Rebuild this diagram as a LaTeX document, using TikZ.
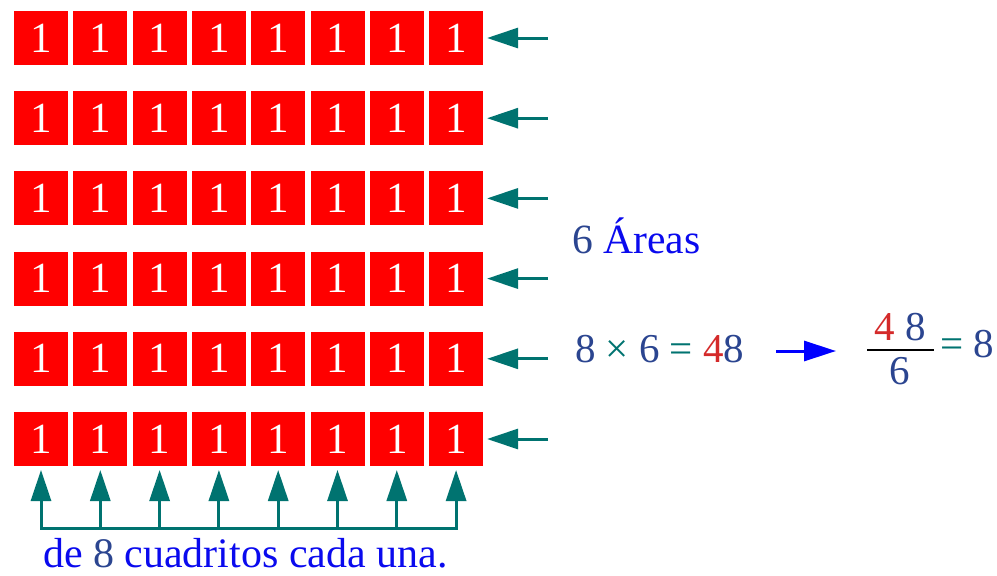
\documentclass[tikz,border=0pt]{standalone}
\usepackage{fontspec}
\setmainfont{Liberation Serif}
\usetikzlibrary{arrows.meta}
\definecolor{boxred}{HTML}{FF0000}
\definecolor{tealc}{HTML}{007370}
\definecolor{navy}{HTML}{2B4590}
\definecolor{brightblue}{HTML}{0A0AEE}
\definecolor{numred}{HTML}{D42A2A}
\tikzset{
  unitbox/.style={rectangle, fill=boxred, minimum width=54pt, minimum height=54pt,
    inner sep=0pt, outer sep=0pt, text=white, font=\fontsize{43}{43}\selectfont},
  pointer/.style={draw=tealc, line width=3pt,
    -{Triangle[length=31pt,width=20pt]}, shorten >=4pt},
  bracketline/.style={draw=tealc, line width=3pt},
  bluearrow/.style={draw=blue, line width=3pt, -{Triangle[length=32pt,width=20pt]}},
  label/.style={inner sep=0pt, outer sep=0pt, font=\fontsize{41}{41}\selectfont}
}
\begin{document}
\begin{tikzpicture}[x=1pt, y=-1pt]
  \useasboundingbox (0,0) rectangle (997,576);
  % grid of unit squares: 6 rows of 8
  \foreach \r in {1,...,6} {
    \foreach \c in {1,...,8} {
      \node[unitbox] (b-\r-\c) at ({41+59.3*(\c-1)}, {38+80.2*(\r-1)}) {1};
    }
    % arrow pointing at each row
    \coordinate (rs-\r) at (548, {38+80.2*(\r-1)});
    \draw[pointer] (rs-\r) -- (b-\r-8.east);
  }
  % bracket under the last row with one arrow per column
  \foreach \c in {1,...,8} {
    \coordinate (bs-\c) at ({41+59.3*(\c-1)}, 528);
    \draw[pointer] (bs-\c) -- (b-6-\c.south);
  }
  \draw[bracketline, line cap=rect] (bs-1) -- (bs-8);
  % texts
  \node[label, anchor=base west, font=\fontsize{41.6}{42}\selectfont] (areas) at (572,253)
    {\textcolor{navy}{6} \textcolor{brightblue}{Áreas}};
  \node[label, anchor=base west] (prod) at (575,362)
    {\textcolor{navy}{8} \textcolor{tealc}{×} \textcolor{navy}{6} \textcolor{tealc}{=} \textcolor{numred}{4}\textcolor{navy}{8}};
  \coordinate (ba-s) at (776,351);
  \coordinate (ba-e) at (836,351);
  \draw[bluearrow] (ba-s) -- (ba-e);
  % fraction 48/6 = 8
  \node[label, anchor=base] (num) at (900,340)
    {\textcolor{numred}{4}\hspace{10pt}\textcolor{navy}{8}};
  \coordinate (bar-l) at (867,350);
  \coordinate (bar-r) at (934,350);
  \draw[black, line width=2pt] (bar-l) -- (bar-r);
  \node[label, anchor=base] (den) at (900,384) {\textcolor{navy}{6}};
  \node[label, anchor=base west] (res) at (940,357)
    {\textcolor{tealc}{=}\hspace{10pt}\textcolor{navy}{8}};
  \node[label, anchor=base west, font=\fontsize{42}{42}\selectfont] (caption) at (43,567)
    {\textcolor{brightblue}{de} \textcolor{navy}{8} \textcolor{brightblue}{cuadritos cada una.}};
\end{tikzpicture}
\end{document}
